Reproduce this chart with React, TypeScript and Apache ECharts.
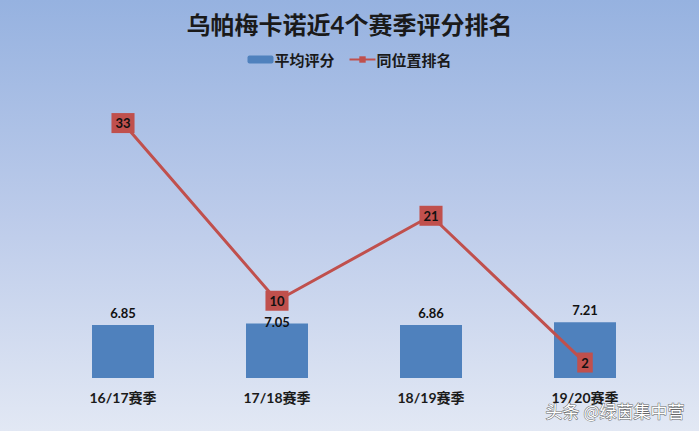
import React, { useEffect, useRef } from 'react';
import * as echarts from 'echarts';

const seasons = ['16/17赛季', '17/18赛季', '18/19赛季', '19/20赛季'];
const avgRating = [6.85, 7.05, 6.86, 7.21];
const positionRank = [33, 10, 21, 2];

const FONT = "Lato, 'Noto Sans CJK SC', sans-serif";

const App: React.FC = () => {
    const chartRef = useRef<HTMLDivElement>(null);

    useEffect(() => {
        if (!chartRef.current) return;
        const chart = echarts.init(chartRef.current, undefined, { renderer: 'svg' });

        chart.setOption({
            animation: false,
            backgroundColor: new echarts.graphic.LinearGradient(0, 0, 0, 1, [
                { offset: 0, color: '#96b2e0' },
                { offset: 0.5, color: '#bccbea' },
                { offset: 1, color: '#e2e8f4' }
            ]),
            title: {
                text: '乌帕梅卡诺近4个赛季评分排名',
                left: 'center',
                top: 7,
                textStyle: { fontFamily: FONT, fontSize: 24, fontWeight: 'bold', color: '#1a1a1a' }
            },
            legend: {
                top: 47,
                left: 'center',
                itemWidth: 26,
                itemHeight: 8,
                itemGap: 14,
                textStyle: { fontFamily: FONT, fontSize: 15, fontWeight: 'bold', color: '#1a1a1a', padding: [0, 0, 0, -4] },
                data: ['平均评分', '同位置排名']
            },
            grid: { left: 46, right: 37, top: 69, bottom: 53 },
            xAxis: {
                type: 'category',
                data: seasons,
                axisLine: { show: false },
                axisTick: { show: false },
                axisLabel: { margin: 12, fontFamily: FONT, fontSize: 14, fontWeight: 'bold', color: '#1a1a1a' }
            },
            yAxis: {
                type: 'value',
                min: 0,
                max: 40,
                show: false,
                splitLine: { show: false }
            },
            series: [
                {
                    name: '平均评分',
                    type: 'bar',
                    barWidth: 62,
                    itemStyle: { color: '#4f81bd' },
                    label: {
                        show: true,
                        position: 'top',
                        distance: 6,
                        fontFamily: FONT,
                        fontSize: 13,
                        fontWeight: 'bold',
                        color: '#111'
                    },
                    data: avgRating.map((v, i) =>
                        i === 1 ? { value: v, label: { offset: [0, 11] } } : v
                    ),
                    z: 1
                },
                {
                    name: '同位置排名',
                    type: 'line',
                    symbol: 'rect',
                    symbolSize: 10,
                    itemStyle: { color: '#c0504d' },
                    lineStyle: { color: '#c0504d', width: 3 },
                    label: {
                        show: true,
                        position: 'inside',
                        fontFamily: FONT,
                        fontSize: 13,
                        fontWeight: 'bold',
                        color: '#111',
                        backgroundColor: '#c0504d',
                        padding: [4, 4, 3, 4]
                    },
                    data: positionRank,
                    z: 3
                }
            ],
            graphic: [
                {
                    type: 'text',
                    right: 14,
                    bottom: 12,
                    style: {
                        text: '头条 @绿茵集中营',
                        fontFamily: "'Noto Sans CJK SC', sans-serif",
                        fontSize: 17,
                        fill: '#ffffff',
                        stroke: '#666666',
                        lineWidth: 1
                    },
                    z: 10
                }
            ]
        });

        return () => {
            chart.dispose();
        };
    }, []);

    return (
        <div
            ref={chartRef}
            style={{ position: 'fixed', left: 0, top: 0, width: 699, height: 431 }}
        />
    );
};

export default App;
